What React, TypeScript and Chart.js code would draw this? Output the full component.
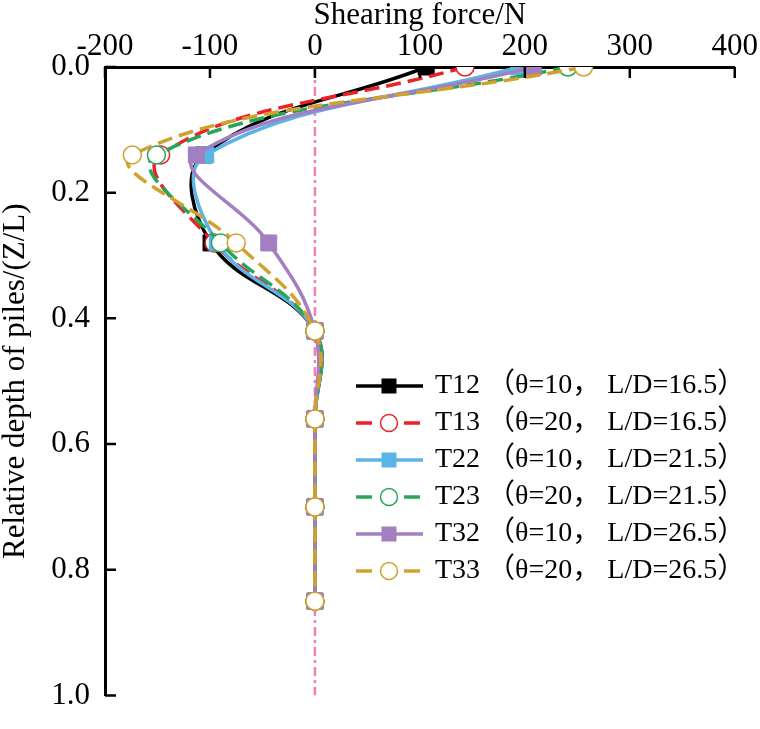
import React, { useEffect, useRef } from 'react';
import { Chart, registerables } from 'chart.js';

Chart.register(...registerables);

// Relative depth Z/L at each measuring section
const depth = [0, 0.14, 0.28, 0.42, 0.56, 0.7, 0.85];

// Shearing force (N) along the pile for each test
const t12 = [106, -106, -99, 0, 0, 0, 0];
const t13 = [143, -147, -96, 0, 0, 0, 0];
const t22 = [194, -104, -93, 0, 0, 0, 0];
const t23 = [241, -151, -90, 0, 0, 0, 0];
const t32 = [208, -113, -44, 0, 0, 0, 0];
const t33 = [256, -174, -75, 0, 0, 0, 0];

const seriesNames = [
  'T12 （θ=10， L/D=16.5）',
  'T13 （θ=20， L/D=16.5）',
  'T22 （θ=10， L/D=21.5）',
  'T23 （θ=20， L/D=21.5）',
  'T32 （θ=10， L/D=26.5）',
  'T33 （θ=20， L/D=26.5）',
];
const seriesValues = [t12, t13, t22, t23, t32, t33];
const seriesColors = ['#000000', '#eb2229', '#5cb4e6', '#27a65a', '#a27fc1', '#d3a02e'];
const seriesSolid = [true, false, true, false, true, false];

const xTitle = 'Shearing force/N';
const yTitle = 'Relative depth of piles/(Z/L)';

const SERIF = "'Liberation Serif', 'Times New Roman', serif";
const LEGEND_FONT = "28px 'Liberation Serif', 'Noto Sans CJK SC', serif";

// Ticks that point into the plot area
const innerTicks = {
  id: 'innerTicks',
  afterDraw(chart: any) {
    const { ctx, chartArea, scales } = chart;
    ctx.save();
    ctx.strokeStyle = '#000';
    ctx.lineWidth = 2.5;
    ctx.beginPath();
    for (const t of scales.x.ticks) {
      const px = scales.x.getPixelForValue(t.value);
      ctx.moveTo(px, chartArea.top);
      ctx.lineTo(px, chartArea.top + 11);
    }
    for (const t of scales.y.ticks) {
      const py = scales.y.getPixelForValue(t.value);
      ctx.moveTo(chartArea.left, py);
      ctx.lineTo(chartArea.left + 11, py);
    }
    ctx.stroke();
    ctx.restore();
  },
};

// Legend with line sample + marker, placed inside the plot
const lineLegend = {
  id: 'lineLegend',
  afterDraw(chart: any) {
    const { ctx } = chart;
    const x0 = 356;
    const x1 = 423;
    const xm = 389;
    const yStart = 386;
    const step = 37;
    ctx.save();
    seriesNames.forEach((name, i) => {
      const y = yStart + i * step;
      const color = seriesColors[i];
      ctx.strokeStyle = color;
      ctx.lineWidth = 3.5;
      ctx.setLineDash(seriesSolid[i] ? [] : [16, 8]);
      ctx.beginPath();
      ctx.moveTo(x0, y);
      ctx.lineTo(x1, y);
      ctx.stroke();
      ctx.setLineDash([]);
      if (seriesSolid[i]) {
        ctx.fillStyle = color;
        ctx.fillRect(xm - 7.5, y - 7.5, 15, 15);
      } else {
        ctx.fillStyle = '#fff';
        ctx.lineWidth = 1.5;
        ctx.beginPath();
        ctx.arc(xm, y, 8.5, 0, Math.PI * 2);
        ctx.fill();
        ctx.stroke();
      }
      ctx.fillStyle = '#000';
      ctx.font = LEGEND_FONT;
      ctx.textAlign = 'left';
      ctx.textBaseline = 'middle';
      ctx.fillText(name, 435, y);
    });
    ctx.restore();
  },
};

export default function App() {
  const canvasRef = useRef<HTMLCanvasElement | null>(null);

  useEffect(() => {
    const canvas = canvasRef.current;
    if (!canvas) return;

    const datasets: any[] = seriesValues.map((vals, i) => ({
      label: seriesNames[i],
      data: vals.map((v, k) => ({ x: v, y: depth[k] })),
      borderColor: seriesColors[i],
      backgroundColor: seriesSolid[i] ? seriesColors[i] : '#ffffff',
      borderWidth: 3.5,
      borderDash: seriesSolid[i] ? [] : [15, 7],
      pointStyle: seriesSolid[i] ? 'rect' : 'circle',
      pointRadius: seriesSolid[i] ? 11.3 : 9,
      pointBorderWidth: seriesSolid[i] ? 1 : 1.5,
      pointBorderColor: seriesColors[i],
      pointBackgroundColor: seriesSolid[i] ? seriesColors[i] : '#ffffff',
      tension: 0.4,
      clip: 0,
      order: 6 - i,
    }));

    // zero-force reference line
    datasets.push({
      label: 'zero',
      data: [
        { x: 0, y: 0 },
        { x: 0, y: 1 },
      ],
      borderColor: '#f27db8',
      borderWidth: 2.5,
      borderDash: [9, 4, 3, 4],
      pointRadius: 0,
      tension: 0,
      clip: 0,
      order: 20,
    });

    const chart = new Chart(canvas, {
      type: 'line',
      data: { datasets },
      options: {
        animation: false,
        responsive: false,
        devicePixelRatio: 1,
        layout: { padding: { left: 0, top: 0, right: 24, bottom: 12 } },
        plugins: {
          legend: { display: false },
          tooltip: { enabled: false },
        },
        scales: {
          x: {
            type: 'linear',
            position: 'top',
            min: -200,
            max: 400,
            ticks: {
              stepSize: 100,
              color: '#000',
              font: { family: SERIF, size: 31 },
              padding: 2,
              maxRotation: 0,
              autoSkip: false,
            },
            grid: { display: false, drawTicks: false },
            border: { display: true, color: '#000', width: 3 },
            title: {
              display: true,
              text: xTitle,
              color: '#000',
              font: { family: SERIF, size: 31, lineHeight: 1 },
              padding: { top: 0, bottom: 0 },
            },
            afterFit: (s: any) => {
              s.height = 67;
            },
          },
          y: {
            type: 'linear',
            reverse: true,
            min: 0,
            max: 1,
            ticks: {
              stepSize: 0.2,
              color: '#000',
              font: { family: SERIF, size: 31 },
              padding: 15,
              callback: (v: any) => Number(v).toFixed(1),
            },
            grid: { display: false, drawTicks: false },
            border: { display: true, color: '#000', width: 3 },
            title: {
              display: true,
              text: yTitle,
              color: '#000',
              font: { family: SERIF, size: 31, lineHeight: 1 },
              padding: { top: 0, bottom: 0 },
            },
            afterFit: (s: any) => {
              s.width = 105;
            },
          },
        },
      },
      plugins: [innerTicks, lineLegend],
    } as any);

    return () => chart.destroy();
  }, []);

  return (
    <div style={{ position: 'absolute', left: 0, top: 0, width: 760, height: 729, background: '#fff' }}>
      <canvas ref={canvasRef} width={760} height={729} style={{ display: 'block' }} />
    </div>
  );
}
